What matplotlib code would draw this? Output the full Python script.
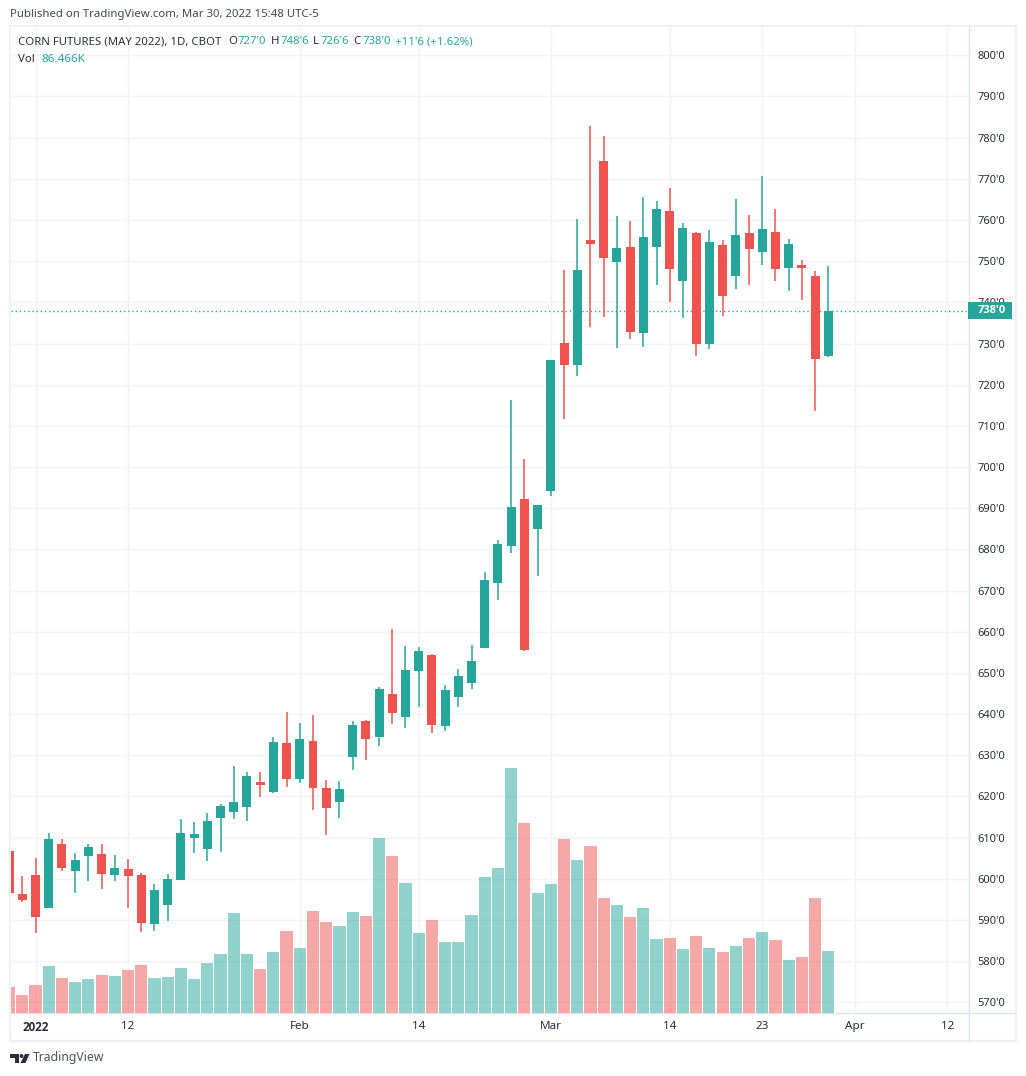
import matplotlib
matplotlib.use("Agg")
import matplotlib.pyplot as plt
from matplotlib.lines import Line2D
from matplotlib.patches import Rectangle, Polygon, Circle

plt.rcParams['font.family'] = ['Noto Sans', 'DejaVu Sans']

W, H = 1026, 1076

# daily candles, price in cents
opens = [606.7, 596.3, 600.9, 592.9, 608.4, 601.9, 605.5, 606.0, 600.9, 602.4,
         600.9, 589.0, 593.6, 599.7, 609.9, 607.2, 614.7, 616.2, 617.4, 623.5,
         621.1, 633.0, 624.2, 633.4, 622.0, 618.6, 629.6, 638.3, 634.4, 644.9,
         639.3, 650.5, 654.3, 637.1, 644.1, 647.5, 656.0, 671.8, 680.8, 692.2,
         684.9, 694.2, 730.1, 724.8, 755.1, 774.3, 749.8, 753.4, 732.5, 753.4,
         762.2, 745.2, 756.8, 729.9, 753.9, 746.4, 756.8, 752.2, 757.1, 748.3,
         749.0, 746.4, 727.0]
highs = [606.7, 600.65, 605.0, 611.1, 609.6, 606.2, 608.4, 608.4, 605.8, 604.8,
         601.4, 598.7, 601.1, 614.5, 613.8, 615.9, 618.1, 627.4, 625.9, 625.9,
         634.4, 640.5, 637.8, 639.8, 624.0, 623.7, 638.3, 638.6, 646.6, 660.7,
         656.5, 656.3, 654.6, 647.0, 650.9, 656.8, 674.5, 682.3, 716.3, 701.9,
         690.8, 726.0, 747.8, 760.2, 782.8, 780.4, 760.9, 759.7, 765.6, 764.6,
         767.8, 759.3, 757.1, 757.6, 755.1, 765.1, 761.2, 770.7, 762.7, 755.4,
         750.3, 747.6, 748.75]
lows = [596.5, 594.3, 586.8, 592.9, 601.9, 596.5, 599.4, 597.5, 599.4, 592.9,
        587.0, 587.3, 589.7, 599.7, 606.2, 604.3, 606.5, 614.5, 614.0, 619.8,
        620.8, 622.3, 623.2, 616.7, 610.6, 614.7, 626.4, 628.8, 632.2, 637.6,
        636.6, 641.7, 635.4, 635.9, 641.7, 646.1, 656.0, 667.7, 679.1, 655.3,
        673.5, 692.9, 711.6, 722.1, 734.0, 736.4, 728.9, 731.1, 729.1, 744.2,
        740.1, 736.2, 727.0, 728.7, 736.7, 743.2, 744.2, 749.1, 745.2, 742.7,
        740.6, 713.6, 726.75]
closes = [596.5, 594.8, 590.7, 609.6, 602.6, 604.5, 607.7, 601.1, 602.6, 600.7,
          589.2, 597.2, 599.9, 611.1, 610.8, 614.0, 617.7, 618.6, 624.9, 622.7,
          633.2, 624.2, 633.9, 622.0, 617.2, 621.8, 637.3, 633.9, 646.1, 640.3,
          650.7, 655.3, 637.3, 645.8, 649.2, 652.9, 672.5, 681.3, 690.3, 655.5,
          690.8, 726.0, 724.8, 747.8, 754.2, 750.7, 753.2, 732.8, 755.9, 762.7,
          748.1, 758.0, 729.9, 754.6, 741.5, 756.3, 752.9, 757.8, 748.1, 754.1,
          748.3, 726.2, 738.0]
volumes = [36.3, 25.1, 39.1, 65.6, 48.8, 43.2, 47.4, 53.0, 51.6, 60.0,
           67.0, 48.8, 50.2, 62.8, 47.4, 69.8, 82.3, 140.9, 82.3, 61.4,
           85.1, 114.4, 90.7, 143.7, 128.3, 122.8, 142.3, 136.7, 245.5, 220.4,
           182.7, 111.6, 131.1, 99.0, 99.0, 138.1, 191.1, 203.7, 343.2, 266.4,
           168.8, 181.4, 244.1, 214.8, 234.4, 161.8, 152.1, 135.3, 147.9, 103.2,
           104.6, 89.3, 107.4, 90.7, 85.1, 93.5, 104.6, 113.0, 101.8, 73.9,
           78.1, 161.8, 86.466]

price_ticks = list(range(570, 801, 10))
time_ticks = [2, 9, 22, 31, 41, 50, 57, 64, 71]
time_labels = ['2022', '12', 'Feb', '14', 'Mar', '14', '23', 'Apr', '12']
last_price = 738.0

GREEN = '#26a69a'
RED = '#ef5350'
TEXT = '#2a2e39'
GRID = '#f2f3f6'
LINE = '#e0e3eb'
FRAME = '#f0f1f6'


def fx(px):
    return px / W


def fy(py):
    return 1 - py / H


def label(x, y, s, color=TEXT, size=8.2, **kw):
    kw.setdefault('va', 'center')
    fig.text(fx(x), fy(y), s, color=color, fontsize=size, **kw)


fig = plt.figure(figsize=(W / 100, H / 100), dpi=100, facecolor='white')

# chart pane in pixels
left, right, top, bottom = 11, 968.5, 27, 1013
ax = fig.add_axes([fx(left), fy(bottom), fx(right - left), (bottom - top) / H])
ax.set_xlim(0.144, 72.61)
ax.set_ylim(567.4, 806.87)
ax.set_zorder(1)

# candles
xs = list(range(len(opens)))
colors = [GREEN if c >= o else RED for o, c in zip(opens, closes)]
ax.vlines(xs, lows, highs, colors=colors, linewidth=1.1, zorder=3)
ax.bar(xs, [abs(c - o) for o, c in zip(opens, closes)],
       bottom=[min(o, c) for o, c in zip(opens, closes)],
       width=0.68, color=colors, linewidth=0, zorder=4)

# last price line
ax.axhline(last_price, color=GREEN, linewidth=1, linestyle=(0, (1, 2)), zorder=2)

# volume sits on its own scale at the bottom of the pane
ax_vol = ax.twinx()
ax_vol.set_zorder(2)
ax_vol.patch.set_visible(False)
ax_vol.set_ylim(0, 1383.8)
ax_vol.set_yticks([])
for side in ['left', 'top', 'right', 'bottom']:
    ax_vol.spines[side].set_visible(False)
ax_vol.bar(xs, volumes, width=0.92, color=colors, alpha=0.5, linewidth=0)

# ticks go after twinx, it moves the price axis back to the left
ax.yaxis.tick_right()
ax.set_yticks(price_ticks)
ax.set_yticklabels([f"{p}'0" for p in price_ticks])
ax.set_xticks(time_ticks)
ax.set_xticklabels(time_labels)
ax.tick_params(axis='y', length=0, pad=6.5, labelsize=8.0, labelcolor=TEXT)
ax.tick_params(axis='x', length=0, pad=6, labelsize=8.4, labelcolor=TEXT)
for t in ax.get_xticklabels():
    if t.get_text() == '2022':
        t.set_fontfamily('Open Sans')
        t.set_fontweight('bold')
ax.grid(True, color=GRID, linewidth=1)
ax.set_axisbelow(True)
for side in ['left', 'top', 'right', 'bottom']:
    ax.spines[side].set_visible(False)

# frame and axis separators
fig.add_artist(Rectangle((fx(10), fy(1041)), fx(1006), (1041 - 26) / H, fill=False,
                         edgecolor=FRAME, linewidth=1.6))
fig.add_artist(Line2D([fx(968.5)] * 2, [fy(27), fy(1040)], color=LINE, linewidth=1))
fig.add_artist(Line2D([fx(11), fx(1015)], [fy(1013)] * 2, color=LINE, linewidth=1))

# last price tag, it covers part of the 740 label like the original does
tag = Rectangle((fx(968), fy(319)), fx(44), 17 / H, facecolor=GREEN, edgecolor='none', zorder=5)
fig.add_artist(tag)
label(991.5, 310.5, "738'0", color='white', size=8.0, ha='center', fontweight='bold',
      family='Open Sans', zorder=6)

# header
label(10, 14, 'Published on TradingView.com, Mar 30, 2022 15:48 UTC-5', color='#434651', size=8.2)
label(18, 42, 'CORN FUTURES (MAY 2022), 1D, CBOT')
for x, s, c in [(228, 'O', TEXT), (237, "727'0", GREEN), (271, 'H', TEXT), (280, "748'6", GREEN),
                (313, 'L', TEXT), (320, "726'6", GREEN), (353, 'C', TEXT), (362, "738'0", GREEN),
                (395, "+11'6 (+1.62%)", GREEN)]:
    label(x, 42, s, color=c)
label(18, 59, 'Vol')
label(41, 59, '86.466K', color=GREEN, size=8.4)


# footer logo
def logo_pts(pts):
    return [(fx(x), fy(y)) for x, y in pts]


for pts in [[(10, 1054), (19, 1054), (19, 1063), (14.5, 1063), (14.5, 1058), (10, 1058)],
            [(25, 1054), (29.5, 1054), (25.5, 1063), (20.5, 1063)]]:
    fig.add_artist(Polygon(logo_pts(pts), closed=True, facecolor=TEXT, edgecolor='none'))
fig.add_artist(Circle((fx(21.5), fy(1056)), fx(1.9), facecolor=TEXT, edgecolor='none'))
label(33, 1058, 'TradingView', color='#50535e', size=8.8)

fig.savefig('out.png', dpi=100)
